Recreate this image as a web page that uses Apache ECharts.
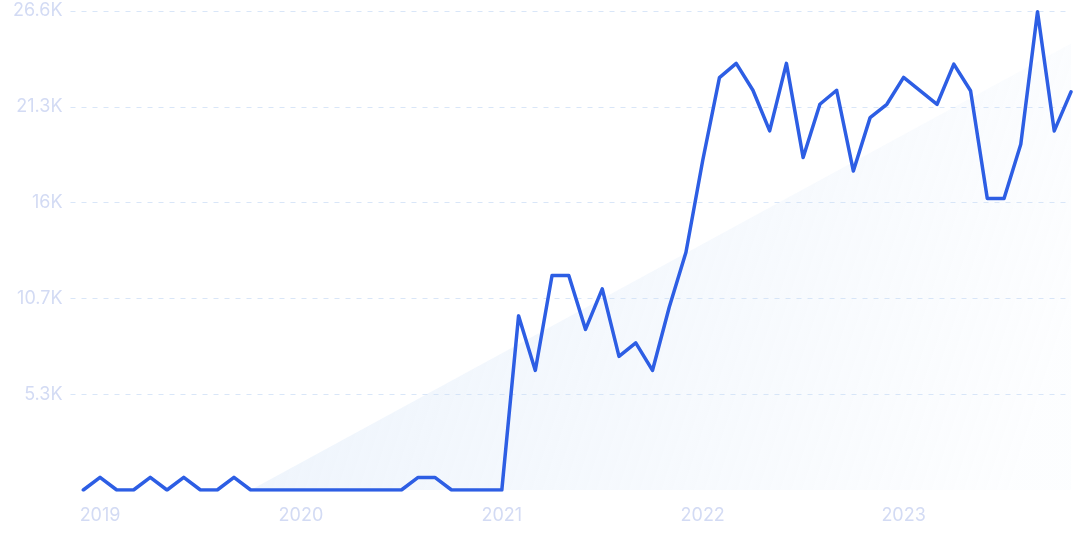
<!DOCTYPE html>
<html>
<head>
<meta charset="utf-8">
<script src="https://cdn.jsdelivr.net/npm/echarts@6/dist/echarts.min.js"></script>
<style>
html,body{margin:0;padding:0;background:#fff;}
#chart{width:1075px;height:537px;}
</style>
</head>
<body>
<div id="chart"></div>
<script>
// Monthly categories, Dec 2018 .. Nov 2023
var monthNames = ['Jan','Feb','Mar','Apr','May','Jun','Jul','Aug','Sep','Oct','Nov','Dec'];
var categories = ['Dec 2018'];
for (var yr = 2019; yr <= 2023; yr++) {
  for (var m = 0; m < 12; m++) {
    if (yr === 2023 && m === 11) break;
    categories.push(monthNames[m] + ' ' + yr);
  }
}

// Search volume values
var values = [
  0, 700, 0, 0, 700, 0, 700, 0, 0, 700,
  0, 0, 0, 0, 0, 0, 0, 0, 0, 0,
  700, 700, 0, 0, 0, 0, 9670, 6640, 11910, 11910,
  8920, 11170, 7420, 8170, 6640, 10150, 13200, 18300, 22900, 23690,
  22200, 19940, 23690, 18460, 21420, 22200, 17710, 20680, 21420, 22910,
  22170, 21420, 23650, 22170, 16190, 16190, 19200, 26560, 19940, 22110
];

// Trend (shaded area) endpoints: category label -> value
var trendCategories = ['Oct 2019', 'Nov 2023'];
var trendValues = [0, 24800];

// Axis tick labels
var yTickValues = [5320, 10640, 15960, 21280, 26600];
var yTickLabels = ['5.3K', '10.7K', '16K', '21.3K', '26.6K'];
var xTickLabels = ['2019', '2020', '2021', '2022', '2023'];

var xTickIdx = xTickLabels.map(function (y) { return categories.indexOf('Jan ' + y); });
var lineData = values.map(function (v, i) { return [i, v]; });
var trendData = trendCategories.map(function (c, i) { return [categories.indexOf(c), trendValues[i]]; });

var chart = echarts.init(document.getElementById('chart'), null, {renderer: 'canvas'});
var labelColor = '#d3dbf4';
chart.setOption({
  animation: false,
  grid: {left: 70.5, right: 4, top: 11, bottom: 47, containLabel: false},
  xAxis: {
    type: 'value',
    min: -0.765,
    max: categories.length - 1,
    axisLine: {show: false},
    axisTick: {show: false},
    splitLine: {show: false},
    axisLabel: {
      customValues: xTickIdx,
      color: labelColor,
      fontSize: 18,
      fontFamily: 'Inter',
      margin: 17,
      formatter: function (v) {
        var k = xTickIdx.indexOf(Math.round(v));
        return k >= 0 ? xTickLabels[k] : '';
      }
    }
  },
  yAxis: {
    type: 'value',
    min: 0,
    max: 26600,
    interval: 5320,
    axisLine: {show: false},
    axisTick: {show: false},
    axisLabel: {
      color: labelColor,
      fontSize: 18,
      fontFamily: 'Inter',
      margin: 8,
      formatter: function (v) {
        for (var i = 0; i < yTickValues.length; i++) {
          if (Math.abs(yTickValues[i] - v) < 1) return yTickLabels[i];
        }
        return '';
      }
    },
    splitLine: {
      show: true,
      showMinLine: false,
      lineStyle: {color: '#d9e6f8', width: 1, type: [5, 6]}
    }
  },
  series: [
    {
      type: 'line',
      data: trendData,
      symbol: 'none',
      silent: true,
      z: 1,
      lineStyle: {width: 0, opacity: 0},
      areaStyle: {
        origin: 'start',
        color: {
          type: 'linear', x: 0, y: 0, x2: 1, y2: 0.6,
          colorStops: [
            {offset: 0, color: 'rgba(207,225,247,0.55)'},
            {offset: 1, color: 'rgba(207,225,247,0.08)'}
          ]
        }
      }
    },
    {
      type: 'line',
      data: lineData,
      symbol: 'none',
      z: 3,
      lineStyle: {color: '#2d5ee4', width: 3.5, join: 'round', cap: 'round'}
    }
  ]
});
</script>
</body>
</html>
